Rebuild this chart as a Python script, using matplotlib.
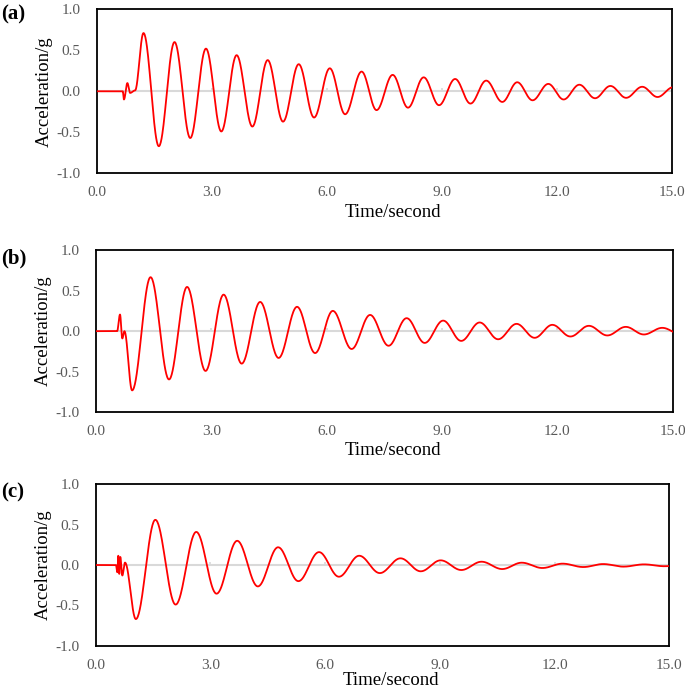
import numpy as np
import matplotlib.pyplot as plt

# key points (time in s, acceleration in g): start-up wiggles then peaks/troughs
t_a = [0, 0.68, 0.71, 0.80, 0.87, 1.00, 1.22, 1.62, 2.03, 2.44, 2.85, 3.25, 3.65, 4.06,
       4.46, 4.86, 5.27, 5.67, 6.08, 6.48, 6.91, 7.30, 7.72, 8.12, 8.53, 8.93, 9.35, 9.75,
       10.16, 10.58, 10.97, 11.37, 11.78, 12.18, 12.59, 13.00, 13.40, 13.81, 14.23, 14.63, 15.04]
acc_a = [0, 0, -0.10, 0.10, -0.02, 0.01, 0.71, -0.67, 0.60, -0.57, 0.52, -0.49, 0.44, -0.43,
         0.38, -0.37, 0.33, -0.32, 0.28, -0.28, 0.24, -0.23, 0.20, -0.20, 0.17, -0.17, 0.15, -0.15,
         0.13, -0.13, 0.11, -0.11, 0.09, -0.10, 0.08, -0.085, 0.065, -0.08, 0.055, -0.07, 0.05]

t_b = [0, 0.55, 0.625, 0.685, 0.74, 0.94, 1.42, 1.90, 2.37, 2.85, 3.32, 3.79, 4.27, 4.75,
       5.23, 5.70, 6.16, 6.65, 7.13, 7.61, 8.08, 8.55, 9.03, 9.50, 9.98, 10.46, 10.94, 11.41,
       11.87, 12.34, 12.82, 13.30, 13.78, 14.25, 14.73, 15.2]
acc_b = [0, 0, 0.205, -0.09, 0.0, -0.73, 0.665, -0.595, 0.545, -0.49, 0.45, -0.40, 0.36, -0.33,
         0.30, -0.27, 0.25, -0.22, 0.20, -0.18, 0.16, -0.145, 0.13, -0.12, 0.107, -0.10, 0.09, -0.082,
         0.078, -0.066, 0.066, -0.053, 0.053, -0.041, 0.041, -0.035]

t_c = [0, 0.53, 0.565, 0.59, 0.617, 0.643, 0.696, 0.766, 1.05, 1.56, 2.09, 2.63, 3.16, 3.70,
       4.24, 4.77, 5.30, 5.84, 6.36, 6.89, 7.43, 7.97, 8.50, 9.02, 9.56, 10.09, 10.63, 11.14,
       11.68, 12.21, 12.75, 13.27, 13.80, 14.34, 14.87, 15.4]
acc_c = [0, 0, -0.09, 0.115, -0.11, 0.10, -0.13, 0.03, -0.67, 0.56, -0.49, 0.41, -0.355, 0.30,
         -0.265, 0.22, -0.20, 0.16, -0.145, 0.115, -0.10, 0.083, -0.078, 0.058, -0.062, 0.041, -0.05, 0.029,
         -0.037, 0.017, -0.025, 0.012, -0.02, 0.008, -0.015, 0.005]

panels = ['(a)', '(b)', '(c)']
x_ticks = [0, 3, 6, 9, 12, 15]
y_ticks = [-1.0, -0.5, 0.0, 0.5, 1.0]


def smooth(t, v, n=40):
    # half-cosine segments between the read key points (zero slope at each extremum)
    xs, ys = [], []
    for i in range(len(t) - 1):
        s = np.linspace(0, 1, n, endpoint=False)
        xs.append(t[i] + (t[i + 1] - t[i]) * s)
        ys.append(v[i] + (v[i + 1] - v[i]) * (1 - np.cos(np.pi * s)) / 2)
    xs.append([t[-1]])
    ys.append([v[-1]])
    return np.concatenate(xs), np.concatenate(ys)


plt.rcParams['font.family'] = 'Liberation Serif'
fig = plt.figure(figsize=(6.85, 6.92), dpi=100)

boxes = [[0.1412, 0.7496, 0.8394, 0.2370],
         [0.1401, 0.4042, 0.8419, 0.2345],
         [0.1397, 0.0669, 0.8374, 0.2332]]
label_y = [0.979, 0.627, 0.289]
xlab_y = [-0.187, -0.183, -0.163]

for k, (t, v) in enumerate([(t_a, acc_a), (t_b, acc_b), (t_c, acc_c)]):
    ax = fig.add_axes(boxes[k])
    ax.axhline(0, color='#d9d9d9', lw=1.5, zorder=1)
    ax.vlines(x_ticks[1:-1], 0, 0.035, color='#d9d9d9', lw=1.2, zorder=1)
    xs, ys = smooth(t, v)
    ax.plot(xs, ys, color='#ff0000', lw=1.3, zorder=3)

    ax.set_xlim(0, 15)
    ax.set_ylim(-1, 1)
    ax.set_xticks(x_ticks)
    ax.set_yticks(y_ticks)
    ax.set_xticklabels(['%.1f' % x for x in x_ticks])
    ax.set_yticklabels(['%.1f' % y for y in y_ticks])
    ax.tick_params(axis='x', length=0, pad=9.5, labelsize=11, labelcolor='#595959')
    ax.tick_params(axis='y', length=0, pad=11.5, labelsize=11, labelcolor='#595959')
    for sp in ax.spines.values():
        sp.set_linewidth(1.3)
        sp.set_color('black')

    ax.set_ylabel('Acceleration/g', fontsize=13.5)
    ax.yaxis.set_label_coords(-0.076, 0.5)
    ax.set_xlabel('Time/second', fontsize=13.5)
    ax.xaxis.set_label_coords(0.515, xlab_y[k])

    fig.text(0.002, label_y[k], panels[k], fontsize=15, fontweight='bold', va='center', ha='left')

fig.savefig('out.png', dpi=100)
